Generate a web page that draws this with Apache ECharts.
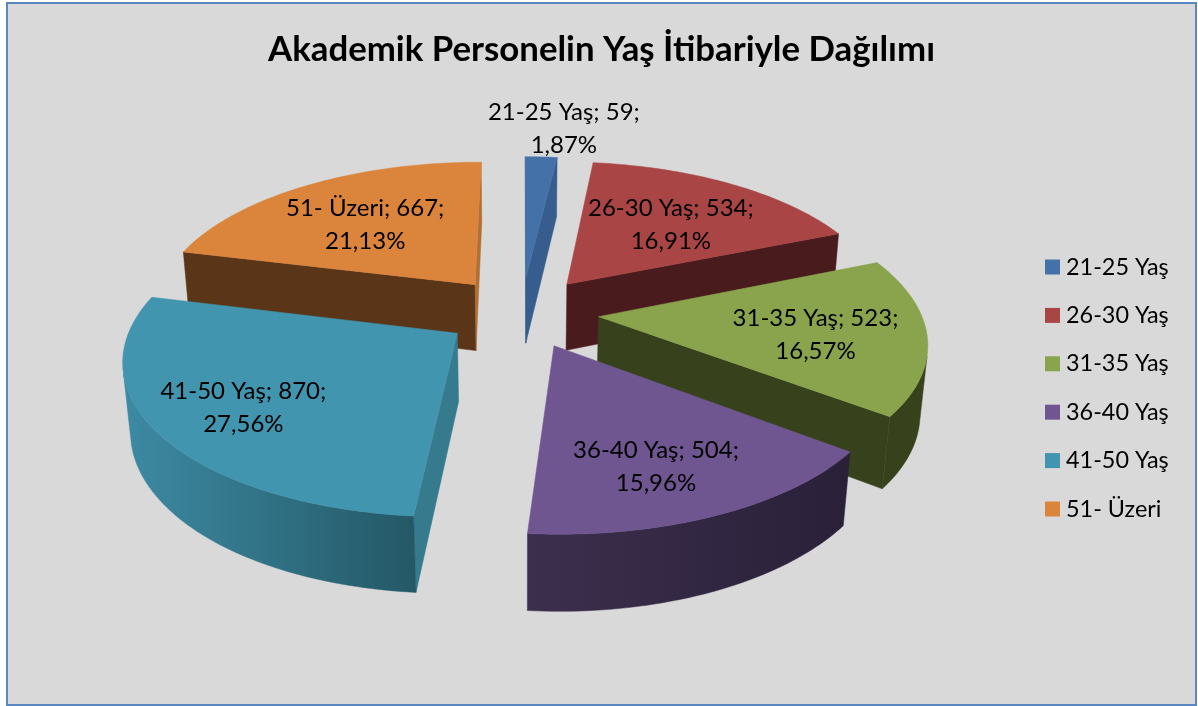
<!DOCTYPE html>
<html><head><meta charset="utf-8">
<style>html,body{margin:0;padding:0;background:#fff}#c{width:1198px;height:706px}</style>
<script src="https://cdn.jsdelivr.net/npm/echarts@6/dist/echarts.min.js"></script>
</head><body><div id="c"></div>
<script>
const titleText = 'Akademik Personelin Yaş İtibariyle Dağılımı';
const categories = ['21-25 Yaş','26-30 Yaş','31-35 Yaş','36-40 Yaş','41-50 Yaş','51- Üzeri'];
const values = [59,534,523,504,870,667];
const percentLabels = ['1,87%','16,91%','16,57%','15,96%','27,56%','21,13%'];

const topColors = ['#4472a8','#a94544','#89a44d','#6f5690','#4195ae','#db843c'];
const wallLeft  = ['#335a8a','#4a1b1c','#37421c','#3c2f4e','#3d8aa3','#5a3518'];
const wallRight = ['#335a8a','#4a1b1c','#37421c','#2a2038','#245866','#5a3518'];
const startWall = ['#365d8d','#4a1b1c','#37421c','#2f2440','#367a8e','#5a3518'];
const endWall   = ['#365d8d','#4a1b1c','#37421c','#2f2440','#367a8e','#b06f33'];
const paintOrder = [1,2,3,5,4,0];
const labelShift = [[38,-149],[104,-60],[217,18],[102,121],[-214,75],[-110,-60]];

const view = {cx:521.5, cy:312, R:322, tilt:27.5, dist:5.87, height:0.24, explode:0.24};
const total = values.reduce((a,b)=>a+b,0);
const sa = Math.sin(view.tilt*Math.PI/180), ca = Math.cos(view.tilt*Math.PI/180);
const camY = view.dist*ca;

function project(x,y,z){
  const Yv = y*sa - z*ca;
  const D = 1 - (y*ca + z*sa)/view.dist;
  return [view.cx + view.R*x/D, view.cy + view.R*Yv/D];
}
const faces = (p,nx,ny)=>(0-p[0])*nx + (camY-p[1])*ny > 0;
function sliceShape(i){
  let before = 0; for(let k=0;k<i;k++) before += values[k];
  const a0 = before/total*2*Math.PI, a1 = (before+values[i])/total*2*Math.PI, m=(a0+a1)/2;
  const ox = view.explode*Math.sin(m), oy = -view.explode*Math.cos(m);
  const n = Math.max(4, Math.ceil((a1-a0)/0.02));
  const arc = [], visible = [];
  for(let k=0;k<=n;k++){
    const a=a0+(a1-a0)*k/n, p=[ox+Math.sin(a), oy-Math.cos(a)];
    arc.push(p);
    if(faces(p,Math.sin(a),-Math.cos(a))) visible.push(p);
  }
  return {ox,oy,a0,a1,arc,visible};
}
function renderSlice(i){
  return function(){
    const s = sliceShape(i);
    const top = p=>project(p[0],p[1],0), bot = p=>project(p[0],p[1],-view.height);
    const apex=[s.ox,s.oy], first=s.arc[0], last=s.arc[s.arc.length-1];
    const poly=(pts,fill)=>({type:'polygon',shape:{points:pts},style:{fill:fill,stroke:fill,lineWidth:0.5},silent:true});
    const children = [];
    if(faces(apex,-Math.cos(s.a0),-Math.sin(s.a0)))
      children.push(poly([top(apex),top(first),bot(first),bot(apex)],startWall[i]));
    if(faces(apex,Math.cos(s.a1),Math.sin(s.a1)))
      children.push(poly([top(apex),top(last),bot(last),bot(apex)],endWall[i]));
    if(s.visible.length>1){
      const outer = s.visible.map(top).concat(s.visible.slice().reverse().map(bot));
      const grad = new echarts.graphic.LinearGradient(0,0,1,0,[{offset:0,color:wallLeft[i]},{offset:1,color:wallRight[i]}]);
      children.push(poly(outer,grad));
    }
    children.push(poly([top(apex)].concat(s.arc.map(top)),topColors[i]));
    const c = top(apex);
    children.push({type:'text',silent:true,x:c[0]+labelShift[i][0],y:c[1]+labelShift[i][1],
      style:{text:categories[i]+'; '+values[i]+';\n'+percentLabels[i],fill:'#000',
        font:'24px Lato',lineHeight:33,align:'center',verticalAlign:'middle'}});
    return {type:'group',children};
  };
}
const chart = echarts.init(document.getElementById('c'),null,{renderer:'canvas'});
chart.setOption({
  animation:false,
  backgroundColor:'#ffffff',
  color:topColors,
  graphic:[{type:'rect',z:0,silent:true,shape:{x:7,y:3,width:1189,height:702},
    style:{fill:'#d9d9d9',stroke:'#5b87c0',lineWidth:2}}],
  title:{text:titleText,left:596.5,top:27,textAlign:'center',
    textStyle:{fontFamily:'Lato',fontWeight:'bold',fontSize:34.8,color:'#000'}},
  legend:{data:categories,orient:'vertical',left:1040,top:250,icon:'rect',itemWidth:15,itemHeight:15,itemGap:24.4,
    selectedMode:false,textStyle:{fontFamily:'Lato',fontSize:23.4,lineHeight:24,color:'#000',padding:[0,0,0,1]}},
  series:categories.map((name,i)=>({
    type:'custom',name,coordinateSystem:'none',z:2+paintOrder[i],
    itemStyle:{color:topColors[i]},
    data:[values[i]],renderItem:renderSlice(i)
  }))
});
</script></body></html>
